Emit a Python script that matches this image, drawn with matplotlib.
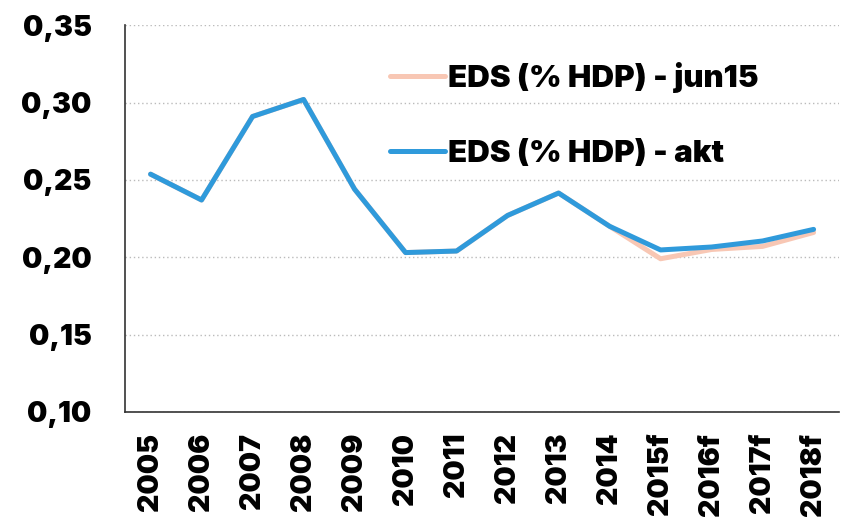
import matplotlib
matplotlib.use("Agg")
import matplotlib.pyplot as plt
from matplotlib.ticker import FuncFormatter

years = ["2005", "2006", "2007", "2008", "2009", "2010", "2011", "2012", "2013",
         "2014", "2015f", "2016f", "2017f", "2018f"]
eds_jun15 = [0.2537, 0.237, 0.291, 0.302, 0.244, 0.203, 0.204, 0.227, 0.2415,
             0.220, 0.199, 0.205, 0.207, 0.216]
eds_akt = [0.2537, 0.237, 0.291, 0.302, 0.244, 0.203, 0.204, 0.227, 0.2415,
           0.220, 0.2047, 0.2066, 0.2105, 0.218]
yticks = [0.10, 0.15, 0.20, 0.25, 0.30, 0.35]

plt.rcParams['font.family'] = ['Inter', 'DejaVu Sans']

fig = plt.figure(figsize=(8.45, 5.26), dpi=100)
ax = fig.add_axes([0.148, 0.217, 0.845, 0.735])

x = list(range(len(years)))
ax.plot(x, eds_jun15, color='#F8C7B4', lw=3.6, solid_capstyle='round',
        label='EDS (% HDP) - jun15')
ax.plot(x, eds_akt, color='#2F9ADB', lw=3.6, solid_capstyle='round',
        label='EDS (% HDP) - akt')

ax.set_xlim(-0.5, len(years) - 0.5)
ax.set_ylim(0.10, 0.35)
ax.set_yticks(yticks)
ax.yaxis.set_major_formatter(FuncFormatter(lambda v, p: f"{v:.2f}".replace('.', ',')))
ax.set_xticks(x)
ax.set_xticklabels(years, rotation=90)
ax.tick_params(axis='both', length=0, labelsize=20.5)
ax.tick_params(axis='x', pad=15)
ax.tick_params(axis='y', pad=24)
for lab in ax.get_xticklabels() + ax.get_yticklabels():
    lab.set_fontweight(900)

ax.grid(axis='y', color='#BBBBBB', linestyle=(0, (1, 2)), lw=1)
ax.set_axisbelow(True)
for s in ['top', 'right']:
    ax.spines[s].set_visible(False)
for s in ['left', 'bottom']:
    ax.spines[s].set_color('#333333')
    ax.spines[s].set_linewidth(1.2)

leg = ax.legend(loc='upper left', bbox_to_anchor=(0.371, 0.905), frameon=False,
                prop={'size': 22.5, 'weight': 900}, handlelength=1.75,
                handletextpad=0.1, labelspacing=1.5, borderpad=0, borderaxespad=0)

fig.savefig('out.png', dpi=100)
